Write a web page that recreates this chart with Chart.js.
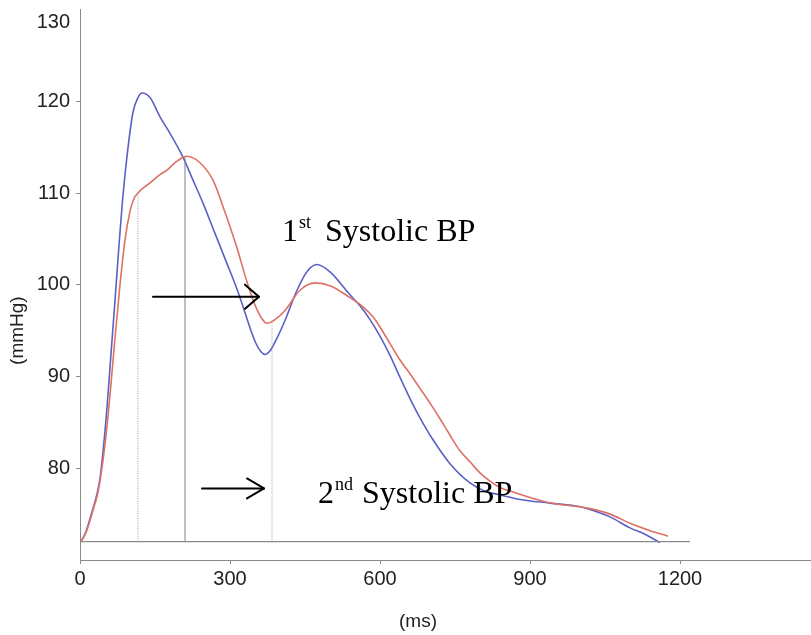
<!DOCTYPE html>
<html>
<head>
<meta charset="utf-8">
<script src="https://cdn.jsdelivr.net/npm/chart.js@4/dist/chart.umd.min.js"></script>
<style>
html,body{margin:0;padding:0;background:#fff;}
#wrap{width:811px;height:635px;}
</style>
</head>
<body>
<div id="wrap"><canvas id="c" width="811" height="635"></canvas></div>
<script>
// ---- data (ms, mmHg) ----
const blueMs = [0,4,12,20,28,34,40,46,54,60,70,78,84,94,106,116,124,140,160,180,206,226,246,270,294,310,325,340,352,362,370,380,395,410,434,455,474,500,540,560,580,600,620,640,660,680,706,740,780,810,840,880,940,1000,1020,1060,1100,1130,1160];
const blueBP = [72,72.2,73.1,74.5,76.0,77.2,78.9,81.8,86.6,91.0,98.3,104.3,108.5,114.0,118.8,120.4,120.9,120.4,118.3,116.5,113.9,111.4,108.9,105.6,102.3,100.1,97.8,95.3,93.6,92.7,92.4,92.8,94.3,96.1,99.4,101.5,102.2,101.4,98.9,97.7,96.2,94.4,92.3,89.9,87.6,85.5,83.1,80.5,78.4,77.5,77.1,76.6,76.2,75.8,75.5,74.7,73.5,72.8,71.9];

const redMs = [0,4,12,20,28,34,40,50,60,70,80,90,100,108,116,130,140,160,174,190,206,214,240,266,290,314,334,350,364,374,390,410,440,470,500,540,566,586,610,640,660,680,700,720,740,760,780,800,820,840,866,934,1020,1060,1100,1140,1176];
const redBP = [72,72.2,73.0,74.3,75.8,76.9,78.6,82.6,88.0,94.2,100.0,104.9,108.0,109.4,110.0,110.7,111.1,112.0,112.5,113.3,113.9,114.0,113.3,111.4,107.9,104.0,100.3,97.8,96.3,95.8,96.2,97.2,99.4,100.2,99.9,98.6,97.6,96.5,94.5,91.8,90.3,88.7,87.1,85.4,83.6,81.9,80.7,79.5,78.6,77.9,77.4,76.3,75.6,75.0,74.0,73.2,72.6];

// reference lines
const baseLineMs = [0,1220];
const baseLineBP = 72;
const markerMs  = [116, 210, 384];
const markerTop = [110.0, 113.9, 96.0];
const markerDotted = [true, false, true];

// annotations (data units)
const arrows = [ {fromMs:146, toMs:358, bp:98.7}, {fromMs:244, toMs:368, bp:77.8} ];
const notes  = [ {ms:404, bp:104.8, num:'1', sup:'st', gap:14, text:'Systolic BP'},
                 {ms:476, bp:76.2,  num:'2', sup:'nd', gap:9,  text:'Systolic BP'} ];

const yTicks = [70,80,90,100,110,120,130];
const xTicks = [0,300,600,900,1200];

const toPts = (xs, ys) => xs.map((x,i)=>({x:x, y:ys[i]}));

const datasets = [];
datasets.push({data: toPts(baseLineMs,[baseLineBP,baseLineBP]), borderColor:'#8a8a8a', borderWidth:1.2, pointRadius:0, tension:0});
markerMs.forEach((m,i)=>{
  datasets.push({data:[{x:m,y:baseLineBP},{x:m,y:markerTop[i]}], borderColor: markerDotted[i]?'#9a9a9a':'#808080',
    borderWidth:1, borderDash: markerDotted[i]?[1,1.5]:[], pointRadius:0, tension:0});
});
datasets.push({data: toPts(redMs, redBP), borderColor:'rgb(222,112,100)', borderWidth:1.6, pointRadius:0, cubicInterpolationMode:'monotone'});
datasets.push({data: toPts(blueMs, blueBP), borderColor:'rgb(92,96,196)', borderWidth:1.6, pointRadius:0, cubicInterpolationMode:'monotone'});

const SERIF = '"Liberation Serif", "Times New Roman", serif';
const SANS = '"Liberation Sans", Arial, sans-serif';

const annot = {
  id:'annot',
  afterDatasetsDraw(chart){
    const ctx = chart.ctx, xs = chart.scales.x, ys = chart.scales.y;
    ctx.save();
    // arrows
    ctx.strokeStyle = '#000'; ctx.lineWidth = 2; ctx.lineCap='round'; ctx.lineJoin='round';
    arrows.forEach((a,i)=>{
      const x1 = xs.getPixelForValue(a.fromMs), x2 = xs.getPixelForValue(a.toMs), y = ys.getPixelForValue(a.bp);
      const hl = i===0 ? 14 : 17, hw = i===0 ? 12 : 10;
      ctx.beginPath(); ctx.moveTo(x1,y); ctx.lineTo(x2,y); ctx.stroke();
      ctx.beginPath(); ctx.moveTo(x2-hl,y-hw); ctx.lineTo(x2,y); ctx.lineTo(x2-hl,y+hw); ctx.stroke();
    });
    // notes
    ctx.fillStyle = '#000'; ctx.textBaseline='alphabetic'; ctx.textAlign='left';
    notes.forEach(n=>{
      let x = xs.getPixelForValue(n.ms); const y = ys.getPixelForValue(n.bp);
      ctx.font = '32px ' + SERIF;
      ctx.fillText(n.num, x, y); x += ctx.measureText(n.num).width + 1;
      ctx.font = '18px ' + SERIF;
      ctx.fillText(n.sup, x, y-13); x += ctx.measureText(n.sup).width;
      ctx.font = '32px ' + SERIF;
      x += n.gap;
      ctx.fillText(n.text, x, y);
    });
    // top tick label (drawn slightly below the axis top as in the reference)
    ctx.fillStyle = '#222';
    ctx.font = '20px ' + SANS;
    ctx.textAlign='right'; ctx.textBaseline='middle';
    ctx.fillText(String(yTicks[yTicks.length-1]), 70, ys.getPixelForValue(128.6));
    // axis titles
    ctx.font = '19px ' + SANS;
    ctx.textAlign='center'; ctx.textBaseline='middle';
    ctx.fillText('(ms)', xs.getPixelForValue(676), 622);
    ctx.translate(18, ys.getPixelForValue(95));
    ctx.rotate(-Math.PI/2);
    ctx.fillText('(mmHg)', 0, 0);
    ctx.restore();
  }
};

new Chart(document.getElementById('c'), {
  type:'line',
  data:{datasets},
  plugins:[annot],
  options:{
    responsive:false, animation:false, devicePixelRatio:1,
    layout:{padding:{top:9.5,right:0,left:0,bottom:0}},
    plugins:{legend:{display:false}, tooltip:{enabled:false}},
    scales:{
      x:{type:'linear', min:0, max:1462,
        afterFit(s){ s.height = 75; s.paddingRight = 0; },
        afterBuildTicks(s){ s.ticks = xTicks.map(v=>({value:v})); },
        border:{color:'#8a8a8a', width:1},
        grid:{drawOnChartArea:false, tickLength:4, color:'#8a8a8a'},
        ticks:{font:{family:SANS, size:20}, color:'#222', padding:3, maxRotation:0,
          callback:(v)=> String(v)}
      },
      y:{type:'linear', min:70, max:130,
        afterFit(s){ s.width = 80; s.paddingTop = 0; s.paddingBottom = 0; },
        afterBuildTicks(s){ s.ticks = yTicks.map(v=>({value:v})); },
        border:{color:'#8a8a8a', width:1},
        grid:{drawOnChartArea:false, tickLength:4, color:(c)=> (c.tick && (c.tick.value===70||c.tick.value===130)) ? 'rgba(0,0,0,0)' : '#8a8a8a'},
        ticks:{font:{family:SANS, size:20}, color:'#222', padding:6,
          callback:(v)=> (v===70 || v===130) ? '' : String(v)}
      }
    }
  }
});
</script>
</body>
</html>
